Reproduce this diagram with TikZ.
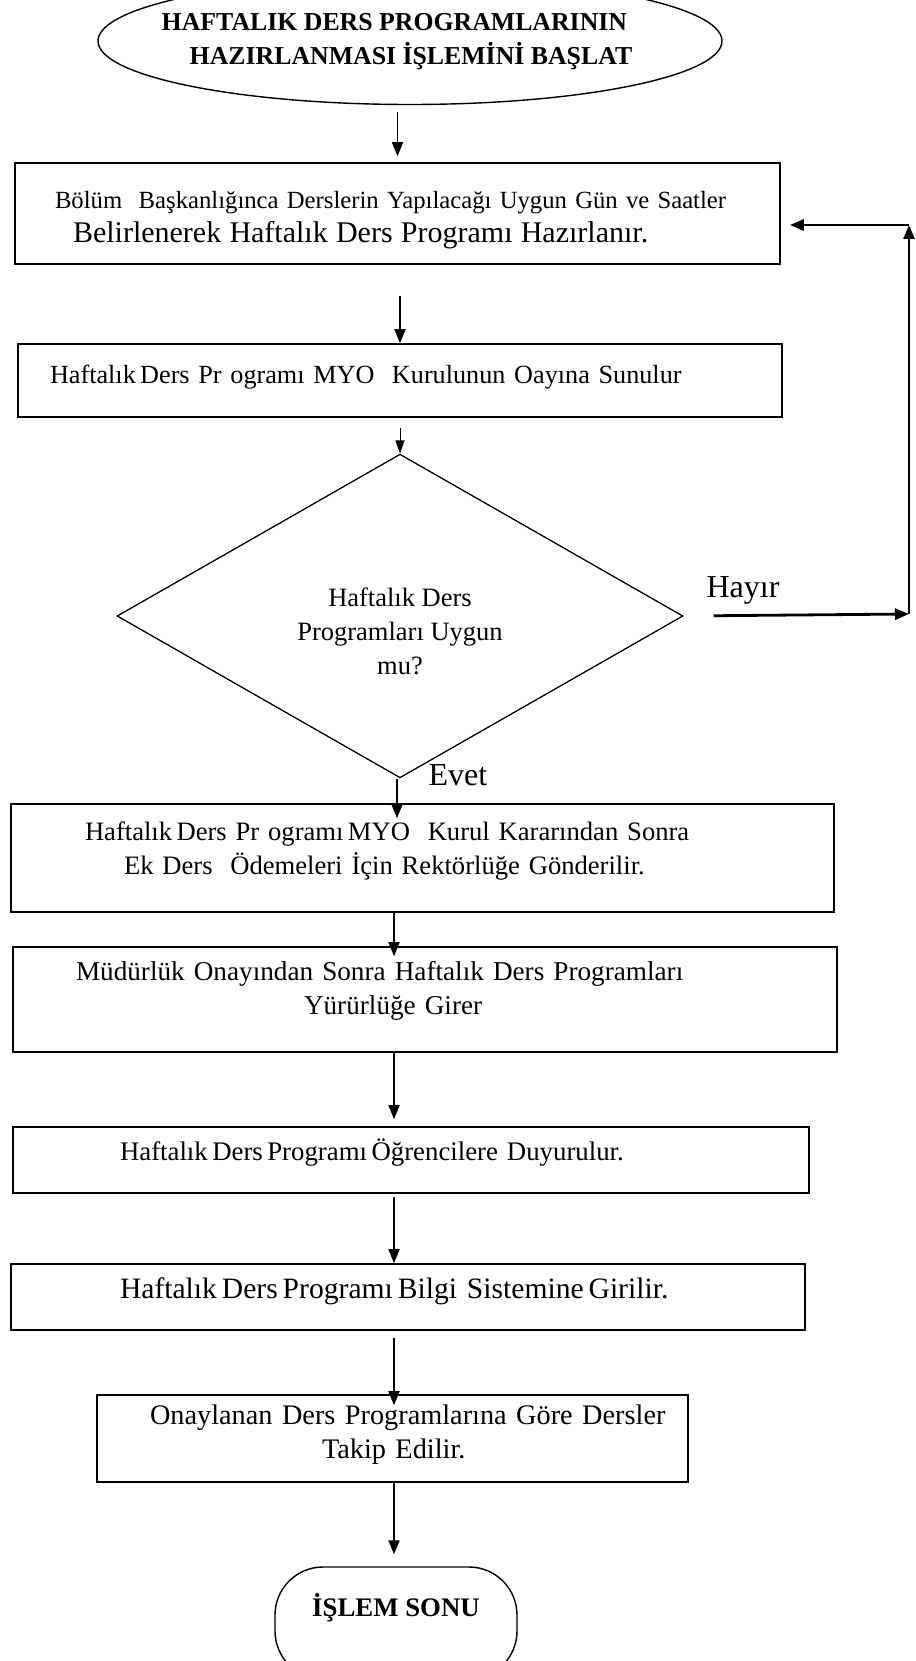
\documentclass[tikz,border=0pt]{standalone}
\usepackage{fontspec}
\setmainfont{Liberation Serif}
\usetikzlibrary{arrows.meta,positioning,shapes.geometric}

\tikzset{
  every node/.style={font=\fontsize{25pt}{34pt}\selectfont},
  fs/.style={font=\fontsize{#1}{34pt}\selectfont},
  procbox/.style={draw, line width=1.6pt, rectangle, inner sep=0pt, align=left},
  termbox/.style={draw, line width=1.4pt, inner sep=0pt},
  termtext/.style={font=\fontsize{#1}{34pt}\selectfont\bfseries, align=left},
  decision/.style={draw, line width=1.3pt, diamond, inner sep=0pt, align=center},
  flow/.style={-{Triangle[width=11pt,length=14pt]}, line width=1.8pt},
  thinflow/.style={-{Triangle[width=9pt,length=13pt]}, line width=0.8pt},
  loopflow/.style={-{Triangle[width=11pt,length=14pt]}, line width=2.8pt},
  lift/.style={execute at end node={\rule[-#1]{0pt}{#1}}}
}

\begin{document}
\begin{tikzpicture}[x=1pt, y=-1pt]
  \useasboundingbox (0,0) rectangle (915,1661);

  % start
  \node[termbox, ellipse, minimum width=624pt, minimum height=127pt] (basla) at (410,41) {};
  \node[termtext=25.8pt] (baslatext) at (397,42) {HAFTALIK DERS PROGRAMLARININ\\\hspace*{28pt}HAZIRLANMASI İŞLEMİNİ BAŞLAT};

  % steps
  \node[procbox, fs=24.7pt, minimum width=765pt, minimum height=101pt, text width=685pt] (hazirla) at (397.5,213.5)
    {\rule{0pt}{30pt}Bölüm\ \ Başkanlığınca Derslerin Yapılacağı Uygun Gün ve Saatler\\\hspace*{18pt}{\fontsize{30pt}{34pt}\selectfont Belirlenerek Haftalık Ders Programı Hazırlanır.}};
  \node[procbox, fs=26.2pt, lift=12pt, minimum width=764pt, minimum height=73pt, text width=700pt] (sunum) at (400,380.5)
    {Haftalık\,Ders Pr ogramı MYO\ \ Kurulunun Oayına Sunulur};
  \node[decision, fs=26.5pt, minimum width=566pt, minimum height=307pt] (uygun) at (400,616)
    {\rule{0pt}{50pt}Haftalık Ders\\Programları Uygun\\mu?};
  \node[procbox, fs=26.6pt, lift=20pt, minimum width=823pt, minimum height=108pt, text width=675pt] (rektor) at (422.5,858)
    {Haftalık\,Ders Pr ogramı\,MYO\ \ Kurul Kararından Sonra\\\hspace*{39pt}Ek Ders\ \ Ödemeleri İçin Rektörlüğe Gönderilir.};
  \node[procbox, fs=27.2pt, lift=24pt, minimum width=824pt, minimum height=105pt, text width=698pt] (yururluk) at (425,999.5)
    {Müdürlük Onayından Sonra Haftalık Ders Programları\\\hspace*{228pt}Yürürlüğe Girer};
  \node[procbox, fs=26.8pt, lift=20pt, minimum width=796pt, minimum height=66pt, text width=582pt] (duyuru) at (411,1160)
    {Haftalık\,Ders\,Programı\,Öğrencilere Duyurulur.};
  \node[procbox, fs=29.6pt, lift=18pt, minimum width=794pt, minimum height=66pt, text width=576pt] (bilgi) at (408,1297)
    {Haftalık\,Ders\,Programı\,Bilgi Sistemine\,Girilir.};
  \node[procbox, fs=28.3pt, lift=14pt, minimum width=591pt, minimum height=87pt, text width=560pt] (takip) at (392.5,1438.5)
    {\hspace*{37.5pt}Onaylanan Ders Programlarına Göre Dersler\\\hspace*{209.5pt}Takip Edilir.};

  % end
  \node[termbox, rounded corners=48pt, minimum width=242pt, minimum height=112pt, termtext=26.8pt, lift=36pt] (sonu) at (396,1623)
    {İŞLEM SONU};

  % labels
  \node[fs=32pt] (hayir) at (743,590) {Hayır};
  \node[fs=32pt] (evet) at (458,775) {Evet};

  \coordinate (eksen) at (394,0);
  \coordinate (altkose) at (909,614);
  \coordinate (ustkose) at (909,225);

  % arrows
  \draw[flow, shorten <=7pt, shorten >=6pt] (basla.south -| hazirla.north) -- (hazirla.north);
  \draw[flow, shorten <=31pt] (hazirla.south -| sunum.north) -- (sunum.north);
  \draw[thinflow, shorten <=10pt] (sunum.south) -- (uygun.north);
  \draw[flow, shorten >=-15pt] ([xshift=-3pt]uygun.south) -- ([xshift=-3pt]uygun.south |- rektor.north);
  \draw[flow, shorten >=-10pt] (rektor.south -| eksen) -- (yururluk.north -| eksen);
  \draw[flow, shorten >=7pt] (yururluk.south -| eksen) -- (duyuru.north -| eksen);
  \draw[flow, shorten <=3pt] (duyuru.south -| eksen) -- (bilgi.north -| eksen);
  \draw[flow, shorten <=7pt, shorten >=-11pt] (bilgi.south -| eksen) -- (takip.north -| eksen);
  \draw[flow, shorten >=12pt] (takip.south -| eksen) -- (sonu.north -| eksen);

  % back loop
  \draw[loopflow, shorten <=30pt] (uygun.east) -- (altkose);
  \draw[loopflow] (altkose) -- (ustkose);
  \draw[loopflow, shorten >=9pt] (ustkose) -- (ustkose -| hazirla.east);
\end{tikzpicture}
\end{document}
